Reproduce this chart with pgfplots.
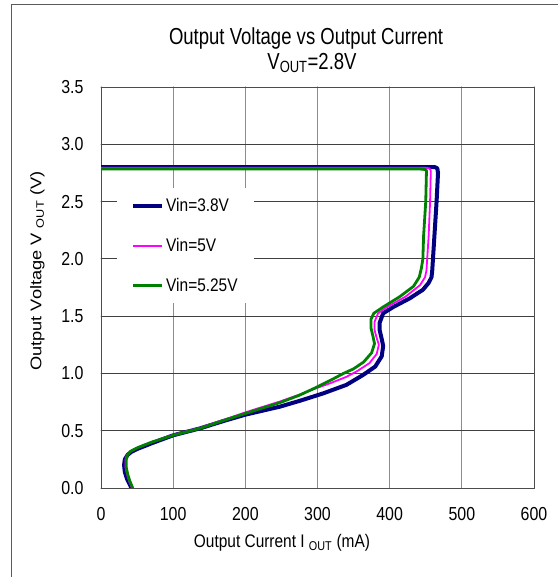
\documentclass[border=0pt]{standalone}
\usepackage{pgfplots}
\pgfplotsset{compat=1.18}
\usepackage{fontspec}
\setmainfont{Liberation Sans}

\definecolor{vblue}{RGB}{0,0,128}
\definecolor{vpink}{RGB}{255,0,255}
\definecolor{vgreen}{RGB}{0,128,0}
\definecolor{framegray}{RGB}{90,90,90}

\begin{document}
\begin{tikzpicture}[x=1bp,y=1bp]
  \path[use as bounding box] (0,0) rectangle (558,577);
  % outer frame (only top and left edges show)
  \draw[framegray, line width=0.9bp] (11,0) -- (11,573) -- (558,573);

  \node[font=\fontsize{18.6}{20}\selectfont, yscale=1.25] at (306,538) {Output Voltage vs Output Current};
  \node[font=\fontsize{18.6}{20}\selectfont, yscale=1.25] at (312,514) {V\textsubscript{OUT}=2.8V};

  \begin{axis}[
      at={(101bp,89bp)}, anchor=south west,
      width=433bp, height=401bp, scale only axis,
      xmin=0, xmax=600, ymin=0, ymax=3.5,
      xtick={0,100,...,600},
      ytick={0,0.5,...,3.5},
      /pgf/number format/assume math mode=true,
      tick label style={font=\fontsize{16}{18}\selectfont, yscale=1.18},
      xticklabel style={yshift=-13bp},
      yticklabel style={xshift=-14bp, /pgf/number format/fixed,
        /pgf/number format/fixed zerofill, /pgf/number format/precision=1},
      major tick length=0pt,
      grid=major,
      x grid style={black!45, line width=1bp},
      y grid style={black!75, line width=0.9bp},
      axis line style={black!70, line width=0.9bp},
      xlabel={Output Current I \textsubscript{OUT} (mA)},
      ylabel={Output Voltage V \textsubscript{OUT} (V)},
      label style={font=\fontsize{15.5}{18}\selectfont},
      xlabel style={at={(axis description cs:0.418,-0.137)}, anchor=center, yscale=1.18},
      ylabel style={at={(axis description cs:-0.147,0.541)}, anchor=center, xscale=1.18},
      legend style={at={(axis description cs:0.037,0.748)}, anchor=north west,
        draw=none, fill=white, font=\fontsize{15.5}{18}\selectfont,
        nodes={yscale=1.18},
        row sep=20bp, inner xsep=14bp, inner ysep=8bp},
      legend cell align=left,
      legend image code/.code={\draw[#1] (0bp,0bp) -- (29bp,0bp);},
      line join=round, line cap=round,
    ]
    \addplot[vblue, line width=4bp] coordinates {
      (0,2.80) (455,2.80) (463,2.80) (466,2.79) (467,2.75) (465,2.5) (462,2.2)
      (460,2.0) (459,1.90) (458,1.84) (454,1.79) (446,1.73) (428,1.656)
      (405,1.58) (391,1.525) (386,1.44) (386,1.38) (389,1.30) (391,1.24)
      (389,1.15) (380,1.06) (363,0.986) (340,0.90) (308,0.826) (276,0.762)
      (248,0.71) (200,0.64) (170,0.585) (137,0.52) (100,0.46) (70,0.39)
      (50,0.34) (42,0.315) (37,0.29) (33,0.25) (32,0.2) (33,0.14) (36,0.08)
      (40,0.03) (42,0)
    };
    \addlegendentry{Vin=3.8V}
    \addplot[vpink, line width=1.8bp] coordinates {
      (0,2.795) (448,2.795) (455,2.79) (457,2.77) (456,2.5) (454,2.2)
      (452,2.0) (451,1.90) (449,1.84) (442,1.77) (422,1.67) (398,1.585)
      (384,1.525) (379,1.45) (379,1.38) (382,1.31) (385,1.25) (382,1.17)
      (372,1.09) (355,1.02) (340,0.97) (318,0.915) (300,0.875) (275,0.815)
      (248,0.755) (220,0.70) (200,0.66) (170,0.595) (137,0.525) (100,0.465)
      (70,0.40) (50,0.35) (41,0.32) (36,0.29) (34,0.25) (34,0.18) (36,0.12)
      (39,0.06) (43,0)
    };
    \addlegendentry{Vin=5V}
    \addplot[vgreen, line width=2.8bp] coordinates {
      (0,2.785) (440,2.785) (449,2.78) (451,2.77) (450,2.5) (447,2.2)
      (446,2.0) (444,1.92) (441,1.84) (433,1.76) (414,1.67) (391,1.58)
      (378,1.525) (374,1.47) (374,1.40) (377,1.32) (379,1.26) (375,1.18)
      (364,1.10) (350,1.04) (336,1.0) (318,0.94) (299,0.88) (275,0.81)
      (248,0.745) (220,0.69) (200,0.65) (170,0.59) (137,0.52) (100,0.46)
      (70,0.40) (50,0.35) (41,0.32) (37,0.29) (35,0.25) (35,0.18) (37,0.12)
      (40,0.06) (44,0)
    };
    \addlegendentry{Vin=5.25V}
  \end{axis}
\end{tikzpicture}
\end{document}
